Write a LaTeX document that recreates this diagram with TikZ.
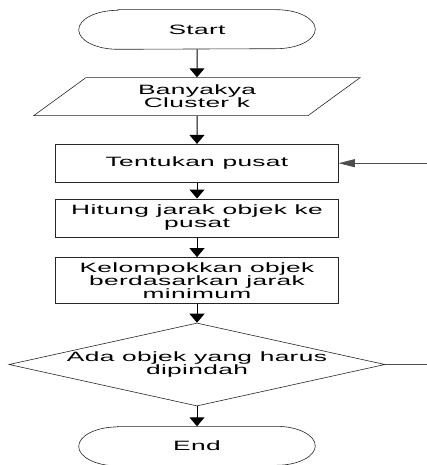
\documentclass[tikz,border=0pt]{standalone}
\usepackage{fontspec}
\setmainfont{Liberation Sans}[FakeStretch=1.95,LetterSpace=2.5]
\usetikzlibrary{arrows.meta, positioning, shapes.geometric}

\begin{document}
\begin{tikzpicture}[x=1pt,y=1pt,>={Triangle[width=15pt,length=9pt]},
        font=\fontsize{13.5pt}{13pt}\selectfont,
        every node/.style={line width=0.6pt,draw=black!85},
        terminal/.style={draw=none,minimum width=236pt,minimum height=39pt},
        inputbox/.style={trapezium,trapezium left angle=41.5,trapezium right angle=138.5,
            trapezium stretches=true,minimum width=327pt,minimum height=38pt,align=center,inner sep=1pt},
        process/.style={rectangle,minimum width=283pt,minimum height=38pt,align=center,inner sep=1pt},
        decision/.style={diamond,shape aspect=4.53,minimum width=376pt,minimum height=83pt,inner sep=0pt,align=center},
        flow/.style={->,line width=1pt},
        back/.style={line width=0.6pt,draw=black!70}]
  \useasboundingbox (0,0) rectangle (427,-465);

  \node[terminal] (start) at (197,-29.5) {Start};
  \node[inputbox] (jumlah) [below=28pt of start] {Banyakya\\Cluster k};
  \node[process] (pusat) [below=28pt of jumlah] {Tentukan pusat};
  \node[process] (hitung) [below=16pt of pusat] {Hitung jarak objek ke\\pusat};
  \node[process,minimum height=46pt] (kelompok) [below=20pt of hitung] {Kelompokkan objek\\berdasarkan jarak\\minimum};
  \node[decision] (pindah) [below=19pt of kelompok] {Ada objek yang harus\\dipindah};
  \node[terminal] (end) [below=20pt of pindah] {End};

  % terminator outline with elliptic ends
  \foreach \t in {start,end}
    \draw[line width=0.6pt,draw=black!85] ([xshift=39pt]\t.north west) -- ([xshift=-39pt]\t.north east)
        arc[start angle=90,end angle=-90,x radius=39pt,y radius=19.5pt]
        -- ([xshift=39pt]\t.south west)
        arc[start angle=270,end angle=90,x radius=39pt,y radius=19.5pt] -- cycle;

  \path (pusat.east) ++(89,0) coordinate (balikmasuk);
  \path (pindah.east) ++(43,0) coordinate (balikkeluar);

  \path[flow] (start) edge (jumlah)
        (jumlah) edge (pusat)
        (pusat) edge (hitung)
        (hitung) edge (kelompok)
        (kelompok) edge (pindah)
        (pindah) edge (end);
  \draw[back] (pindah.east) -- (balikkeluar);
  \draw[back,-{Triangle[width=8pt,length=16pt]}] (balikmasuk) -- (pusat.east);
\end{tikzpicture}
\end{document}
